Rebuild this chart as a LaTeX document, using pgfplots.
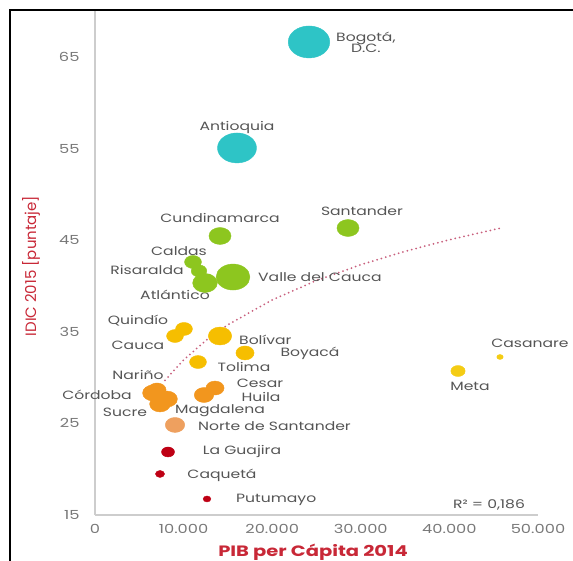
\documentclass[border=0pt]{standalone}
\usepackage{fontspec}
\setmainfont{Poppins}
\usepackage{graphicx}
\usepackage{pgfplots}
\usepackage{pgfplotstable}
\pgfplotsset{compat=1.18}

\definecolor{cteal}{RGB}{46,196,198}
\definecolor{cgreen}{RGB}{141,198,31}
\definecolor{cgold}{RGB}{246,190,0}
\definecolor{cyellow}{RGB}{244,204,20}
\definecolor{corange}{RGB}{242,150,30}
\definecolor{clorange}{RGB}{238,160,95}
\definecolor{cred}{RGB}{190,0,20}
\definecolor{trend}{RGB}{200,95,125}
\definecolor{axisgray}{RGB}{205,205,205}
\definecolor{tickgray}{RGB}{120,120,120}
\definecolor{lblgray}{RGB}{85,85,85}
\definecolor{titred}{RGB}{200,40,55}

% stretched labels, as in the (widened) source picture
\newcommand{\lbl}[1]{\scalebox{1.3}[1]{#1}}

% x = PIB per capita 2014, y = IDIC 2015, r = bubble radius (pt)
\pgfplotstableread{
x y r
24154 66.64 16
16027 55.07 15
}\teal
\pgfplotstableread{
x y r
28556 46.33 8.5
14109 45.46 8.5
11061 42.62 6.5
11739 41.64 6
12416 40.33 9.5
15576 40.98 13
}\green
\pgfplotstableread{
x y r
10045 35.31 6.5
9030 34.54 6.5
14109 34.54 9
16931 32.69 7
11626 31.70 6.5
}\gold
\pgfplotstableread{
x y r
45712 32.25 2.5
40972 30.72 5.5
}\yellow
\pgfplotstableread{
x y r
6998 28.65 7
6546 28.32 8
7337 27.12 8
8127 27.66 8
13544 28.86 7
12303 28.10 7.5
}\orange
\pgfplotstableread{
x y r
9030 24.83 7.5
}\lorange
\pgfplotstableread{
x y r
8240 21.88 5
7337 19.48 3.5
12642 16.75 3
}\red

\pgfplotsset{
  bubble/.style={
    scatter, only marks, mark=*,
    scatter/use mapped color={draw=#1, fill=#1},
    visualization depends on={\thisrow{r} \as \bubr},
    scatter/@pre marker code/.append style={/tikz/mark size=\bubr},
    mark options={xscale=1.3},
  },
}
\tikzset{lab/.style={font=\fontsize{12}{14}\selectfont, text=lblgray, inner sep=1pt}}

\begin{document}
\begin{tikzpicture}
\useasboundingbox (-95pt,-46pt) rectangle (478pt,515pt);
\begin{axis}[
    scale only axis,
    width=443pt, height=503.8pt,
    xmin=0, xmax=50000, ymin=15, ymax=70,
    axis x line*=bottom, axis y line*=left,
    axis line style={draw=axisgray, line width=1.2pt},
    scaled x ticks=false,
    xtick={0,10000,...,50000},
    xticklabels={\lbl{0},\lbl{10.000},\lbl{20.000},\lbl{30.000},\lbl{40.000},\lbl{50.000}},
    ytick={15,25,...,65},
    yticklabels={\lbl{15},\lbl{25},\lbl{35},\lbl{45},\lbl{55},\lbl{65}},
    major tick length=0pt,
    tick label style={font=\fontsize{12.5}{14}\selectfont, text=tickgray},
    xticklabel style={yshift=-6pt},
    yticklabel style={xshift=-12pt},
    clip=false,
]
% logarithmic trend line
\addplot[trend, line width=2pt, line cap=round, dash pattern=on 0pt off 4.5pt]
  coordinates {(7900,29.7) (10000,31.93) (12500,34.04) (15000,35.77) (20000,38.48)
  (25000,40.60) (30000,42.32) (35000,43.78) (40000,45.05) (45700,46.3)};

\addplot[bubble=cteal] table {\teal};
\addplot[bubble=cgreen] table {\green};
\addplot[bubble=cgold] table {\gold};
\addplot[bubble=cyellow] table {\yellow};
\addplot[bubble=corange] table {\orange};
\addplot[bubble=clorange] table {\lorange};
\addplot[bubble=cred] table {\red};

\node[lab, anchor=west, align=center] at (axis cs:27089,66.64) {\lbl{Bogotá,}\\[-3pt]\lbl{D.C.}};
\node[lab] at (axis cs:16027,57.25) {\lbl{Antioquia}};
\node[lab] at (axis cs:30136,48.19) {\lbl{Santander}};
\node[lab] at (axis cs:14109,47.42) {\lbl{Cundinamarca}};
\node[lab] at (axis cs:9481,43.82) {\lbl{Caldas}};
\node[lab] at (axis cs:5869,41.75) {\lbl{Risaralda}};
\node[lab, anchor=west] at (axis cs:18280,40.98) {\lbl{Valle del Cauca}};
\node[lab] at (axis cs:9030,39.02) {\lbl{Atlántico}};
\node[lab] at (axis cs:4853,36.18) {\lbl{Quindío}};
\node[lab] at (axis cs:4853,33.56) {\lbl{Cauca}};
\node[lab, anchor=west] at (axis cs:16140,34.10) {\lbl{Bolívar}};
\node[lab] at (axis cs:24267,32.69) {\lbl{Boyacá}};
\node[lab] at (axis cs:16818,31.16) {\lbl{Tolima}};
\node[lab] at (axis cs:4853,30.28) {\lbl{Nariño}};
\node[lab] at (axis cs:226,28.10) {\lbl{Córdoba}};
\node[lab] at (axis cs:3386,26.24) {\lbl{Sucre}};
\node[lab] at (axis cs:14108,26.40) {\lbl{Magdalena}};
\node[lab] at (axis cs:18624,29.35) {\lbl{Cesar}};
\node[lab] at (axis cs:18737,27.90) {\lbl{Huila}};
\node[lab, anchor=west] at (axis cs:11513,24.72) {\lbl{Norte de Santander}};
\node[lab] at (axis cs:16592,21.88) {\lbl{La Guajira}};
\node[lab] at (axis cs:14334,19.37) {\lbl{Caquetá}};
\node[lab, anchor=west] at (axis cs:15802,16.64) {\lbl{Putumayo}};
\node[lab] at (axis cs:49098,33.78) {\lbl{Casanare}};
\node[lab] at (axis cs:42326,29.08) {\lbl{Meta}};
\node[lab] at (axis cs:44471,16.09) {\lbl{R² = 0,186}};
\end{axis}
\node[rotate=90, text=titred, font=\fontsize{15}{17}\selectfont] at (-64pt,249pt) {IDIC 2015 [puntaje]};
\node[text=titred, font=\fontsize{15}{17}\selectfont\bfseries] at (218pt,-37pt) {\lbl{PIB per Cápita 2014}};
\draw[line width=1.8pt] (-85pt,-50pt) -- (-85pt,505pt) -- (480pt,505pt);
\end{tikzpicture}
\end{document}
